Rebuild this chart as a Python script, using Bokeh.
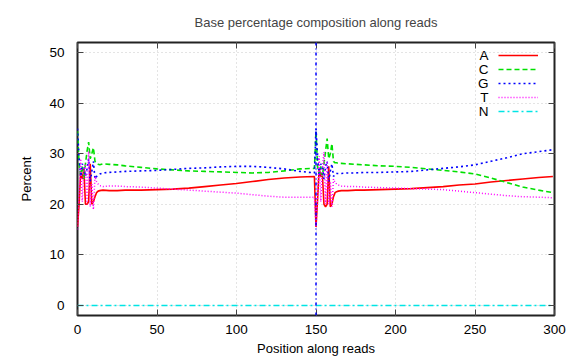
from bokeh.plotting import figure
from bokeh.models import (Span, Legend, LegendItem, LinearAxis, Range1d, SingleIntervalTicker,
                          Label, CustomJSTickFormatter)
from bokeh.embed import file_html
from bokeh.resources import INLINE

# position along the (concatenated) reads
positions = [0, 1, 2, 3, 4, 5, 6, 7, 8, 9, 10, 11, 12, 13, 14,
             16, 20, 25, 30, 40, 50, 60, 70, 80, 90, 100, 110, 120, 130, 140, 149,
             150, 151, 152, 153, 154, 155, 156, 157, 158, 159, 160, 161, 162, 163, 164,
             166, 170, 175, 180, 190, 200, 210, 220, 230, 240, 250, 260, 270, 280, 290, 299]

pct_A = [15.5, 20.0, 26.5, 25.0, 27.0, 20.0, 20.0, 20.5, 28.0, 20.0, 20.5, 21.5, 22.3, 22.6, 22.7,
         22.8, 22.7, 22.7, 22.8, 22.8, 22.9, 23.0, 23.2, 23.5, 23.8, 24.1, 24.5, 24.9, 25.2, 25.4, 25.5,
         15.5, 21.0, 27.0, 25.5, 26.0, 20.0, 19.5, 20.0, 27.5, 19.5, 20.0, 21.5, 22.3, 22.5, 22.6,
         22.7, 22.7, 22.8, 22.8, 22.9, 23.0, 23.1, 23.3, 23.5, 23.8, 24.0, 24.4, 24.7, 25.0, 25.3, 25.5]

pct_C = [34.5, 28.0, 25.5, 27.5, 25.0, 28.0, 30.5, 32.3, 29.0, 30.0, 31.2, 28.5, 28.0, 27.9, 27.8,
         28.0, 27.9, 27.8, 27.6, 27.3, 27.0, 26.8, 26.6, 26.5, 26.4, 26.3, 26.2, 26.3, 26.6, 27.0, 27.1,
         34.5, 27.5, 26.0, 27.5, 25.5, 28.0, 30.5, 33.0, 29.0, 30.0, 32.0, 28.5, 28.2, 28.2, 28.1,
         28.1, 28.0, 27.9, 27.8, 27.6, 27.5, 27.3, 27.0, 26.7, 26.4, 26.0, 25.2, 24.3, 23.4, 22.8, 22.3]

pct_G = [35.0, 29.0, 25.5, 28.0, 27.5, 25.5, 27.0, 29.0, 24.5, 26.5, 28.5, 25.0, 25.5, 25.8, 26.0,
         26.2, 26.3, 26.4, 26.5, 26.6, 26.7, 26.9, 27.1, 27.2, 27.4, 27.5, 27.5, 27.3, 27.0, 26.5, 26.2,
         35.0, 29.5, 25.5, 28.0, 27.5, 25.0, 27.5, 28.5, 24.5, 26.5, 28.0, 25.5, 26.0, 26.1, 26.1,
         26.1, 26.2, 26.2, 26.3, 26.3, 26.4, 26.5, 26.8, 27.1, 27.4, 27.8, 28.5, 29.2, 30.0, 30.4, 30.8]

pct_T = [15.0, 22.0, 29.0, 20.5, 27.0, 28.0, 20.0, 30.5, 19.5, 24.0, 19.0, 25.5, 24.5, 24.0, 23.7,
         23.5, 23.6, 23.6, 23.5, 23.4, 23.2, 23.0, 22.8, 22.6, 22.4, 22.2, 21.9, 21.6, 21.4, 21.4, 21.4,
         15.5, 22.0, 29.5, 20.5, 27.0, 30.3, 20.0, 28.5, 20.0, 24.5, 19.5, 25.0, 24.3, 24.0, 23.8,
         23.6, 23.5, 23.5, 23.4, 23.3, 23.2, 23.1, 23.0, 22.9, 22.6, 22.3, 22.0, 21.7, 21.5, 21.4, 21.3]

pct_N = [0.0] * len(positions)

bases = ["A", "C", "G", "T", "N"]
read_boundary = 150

FONT = "Liberation Sans"

p = figure(width=576, height=360, output_backend="svg", toolbar_location=None,
           x_range=Range1d(0, 300), y_range=Range1d(-2, 52),
           min_border_left=77, min_border_right=22, min_border_top=42, min_border_bottom=45,
           background_fill_color="white", border_fill_color="white")

p.title.text = "Base percentage composition along reads"
p.title.align = "center"
p.title.text_font = FONT
p.title.text_font_size = "13px"
p.title.text_font_style = "normal"
p.title.offset = -20
p.title.standoff = 17

p.outline_line_color = "#222222"
p.outline_line_width = 2

xt = SingleIntervalTicker(interval=50)
yt = SingleIntervalTicker(interval=10)
p.xaxis.ticker = xt
p.yaxis.ticker = yt

for ax in (p.xaxis[0], p.yaxis[0]):
    ax.major_tick_in = 6
    ax.major_tick_out = 0
    ax.minor_tick_line_color = None
    ax.axis_line_color = None
    ax.major_tick_line_color = "#444444"
    ax.major_label_text_font = FONT
    ax.major_label_text_font_size = "13.5px"
    ax.major_label_text_color = "black"
    ax.axis_label_text_font = FONT
    ax.axis_label_text_font_size = "13px"
    ax.axis_label_text_font_style = "normal"
    ax.axis_label_text_color = "black"

p.xaxis.axis_label = "Position along reads"
p.yaxis.axis_label = "Percent"
p.xaxis.major_label_standoff = 5
p.xaxis.axis_label_standoff = 4
p.yaxis.major_label_standoff = 9
p.yaxis.axis_label_standoff = 12

for loc, tk in (("above", xt), ("right", yt)):
    ax = LinearAxis(ticker=tk, formatter=CustomJSTickFormatter(code="return ''"))
    ax.major_tick_in = 6
    ax.major_tick_out = 0
    ax.minor_tick_line_color = None
    ax.axis_line_color = None
    ax.major_tick_line_color = "#444444"
    ax.major_label_standoff = 0
    p.add_layout(ax, loc)

p.xgrid.grid_line_color = "#c8c8c8"
p.xgrid.grid_line_dash = "1 3"
p.ygrid.grid_line_color = "#c8c8c8"
p.ygrid.grid_line_dash = "1 3"

rA = p.line(positions, pct_A, line_color="#ff0000", line_width=1.6)
rC = p.line(positions, pct_C, line_color="#00e000", line_width=1.6, line_dash="5 3")
rG = p.line(positions, pct_G, line_color="#0000ff", line_width=1.6, line_dash="2 3")
rT = p.line(positions, pct_T, line_color="#ff00ff", line_width=1.5, line_dash="1 2")
rN = p.line(positions, pct_N, line_color="#00e5e5", line_width=1.5, line_dash="6 3 2 3")

sep = Span(location=read_boundary, dimension="height", line_color="#0000ff",
           line_width=1.5, line_dash="3 3 1 3")
p.add_layout(sep)

# legend: line samples via Bokeh Legend, letters to their left (gnuplot style)
legend = Legend(items=[LegendItem(label=" ", renderers=[r]) for r in (rA, rC, rG, rT, rN)],
                location=(421, 197), glyph_width=40, glyph_height=14, label_height=14,
                label_width=0, spacing=0, padding=0, margin=0, label_standoff=0,
                label_text_font=FONT, label_text_font_size="9px",
                border_line_color=None, background_fill_alpha=0)
p.add_layout(legend)

legend_y = [49.4, 46.65, 43.9, 41.15, 38.4]
for b, yy in zip(bases, legend_y):
    p.add_layout(Label(x=258.5, y=yy, text=b, text_align="right", text_baseline="middle",
                       text_font=FONT, text_font_size="13.5px", text_color="black"))

open("out.html", "w").write(file_html(p, INLINE))
